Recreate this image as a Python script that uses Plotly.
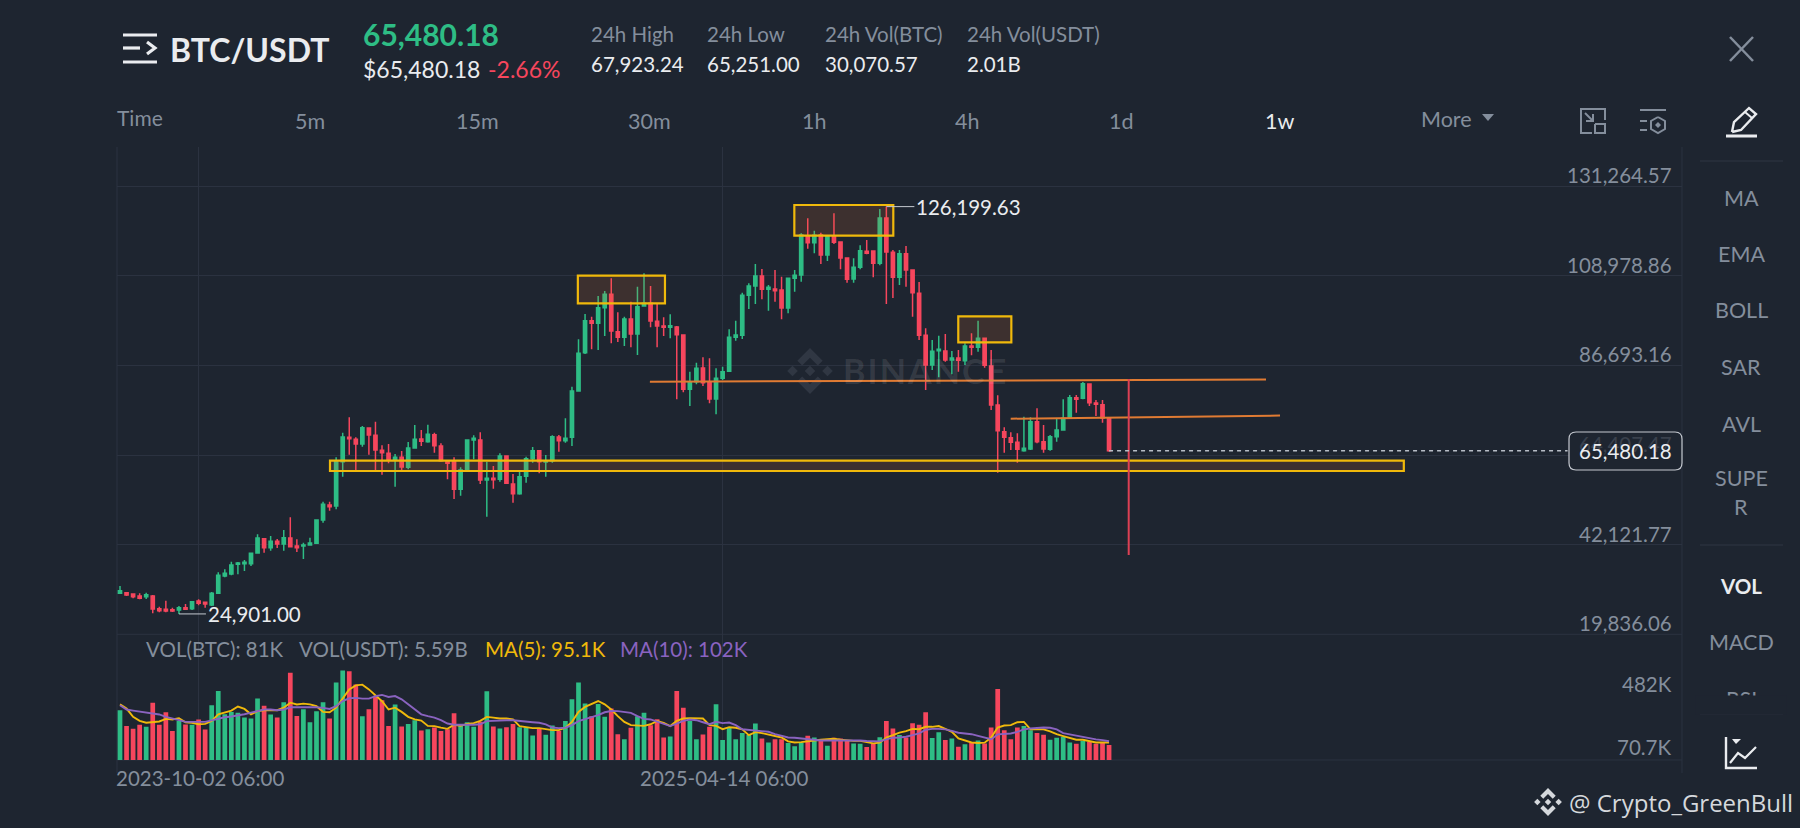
#!/usr/bin/env python3
import pandas as pd
import plotly.graph_objects as go

W, H = 1800, 828
BG = "#1e2530"
GRID = "#2b3240"
GRAY = "#848e9c"
WHITE = "#eaecef"
UP = "#2ebd85"
DOWN = "#f6465d"
GOLD = "#f0b90b"
ORANGE = "#e07b33"
PURPLE = "#8a63c0"
FONT = "Lato"

# weekly candles
opens = [30025, 30191, 29859, 29362, 29196, 29362, 26212, 26046, 25963, 25881,
         26460, 26212, 28118, 27787, 27124, 30025, 34336, 34833, 37237, 37403,
         37403, 40056, 43621, 41382, 42957, 42294, 43786, 41797, 41797, 42045,
         42460, 48263, 51994, 51745, 62770, 68822, 68325, 67164, 71143, 69320,
         65589, 64843, 63185, 63848, 61361, 66169, 68408, 67745, 69485, 66667,
         62936, 62770, 55890, 60864, 68159, 68159, 58211, 58625, 58377, 64180,
         57216, 54812, 59123, 63517, 65506, 62688, 63019, 68905, 67993, 68821,
         80344, 89878, 97836, 97173, 101069, 104385, 95100, 93691, 98251, 94520,
         101484, 102147, 97670, 96510, 96178, 96261, 94272, 80759, 82666, 86064,
         82417, 78355, 83494, 85235, 93691, 94189, 104137, 106458, 108945, 105629,
         105712, 105463, 100986, 108365, 109193, 118976, 117235, 119141, 114168, 118976,
         117401, 113421, 108199, 111100, 115079, 115162, 112095, 123369, 114831, 108613,
         114499, 110437, 104634, 94189, 86811, 90375, 90292, 88054, 88551, 87888,
         91536, 91204, 93443, 86562, 76863, 70230, 68738, 67578, 65505, 65920,
         72717, 67744, 65837, 68987, 70645, 73795, 78686, 78520, 82085, 77360,
         76945, 73629]
highs = [31849, 30357, 30025, 30025, 30191, 29610, 26709, 28201, 26460, 26875,
         27372, 28035, 28533, 27952, 30357, 35248, 35994, 37900, 37817, 38315,
         40139, 44698, 43786, 44284, 43538, 45776, 48926, 43455, 42626, 43869,
         48429, 52822, 52822, 63848, 69983, 73796, 68822, 71641, 71226, 72718,
         66833, 67164, 64677, 65423, 67662, 71890, 70646, 71972, 69983, 67330,
         63185, 63848, 61361, 68325, 69320, 70066, 62770, 61693, 64843, 64346,
         59703, 60201, 64014, 66418, 65506, 64428, 69320, 69402, 73548, 81422,
         93194, 99494, 98831, 103971, 105214, 108365, 99909, 98831, 102562, 106292,
         109608, 106458, 102147, 98665, 99411, 96510, 94354, 85153, 87391, 88718,
         88469, 85982, 86396, 95681, 97836, 104800, 107121, 111929, 110686, 106707,
         110437, 108779, 108530, 110437, 119556, 123287, 120219, 119722, 119141, 124530,
         117484, 113504, 113339, 116572, 117898, 115245, 125608, 126199.63, 115411, 115411,
         116406, 110603, 107453, 95929, 93028, 94106, 94520, 90292, 90541, 92199,
         94686, 97836, 93443, 90541, 79267, 71308, 70065, 69816, 73961, 73795,
         76034, 71889, 69402, 73547, 78272, 79350, 79350, 82583, 82251, 78106,
         78106, 73795]
lows = [29859, 29362, 28781, 28532, 28615, 25051, 25300, 25300, 25383, 24901,
        25881, 25881, 27040, 26460, 26875, 29859, 34004, 34502, 34750, 35579,
        36823, 39973, 40139, 40636, 41299, 40636, 41465, 40305, 38564, 41879,
        42294, 47600, 50584, 50916, 59040, 64511, 60698, 66501, 64511, 60698,
        59537, 62356, 56553, 60201, 60864, 66004, 66667, 67496, 65009, 62770,
        58377, 53486, 54315, 60698, 63351, 57216, 49092, 56056, 57797, 57216,
        52574, 54563, 57548, 62522, 59869, 59040, 62522, 65257, 67496, 66666,
        80179, 89546, 90707, 90541, 94023, 92199, 92531, 91536, 91204, 89297,
        101318, 96178, 91204, 94023, 93443, 78272, 80013, 76614, 82000, 81588,
        77277, 74541, 83080, 85153, 92862, 93277, 100738, 101981, 103142, 100323,
        102561, 98168, 99660, 105049, 107536, 115743, 114582, 111929, 112675, 116903,
        110603, 107287, 107287, 110603, 114333, 108613, 111598, 101981, 103473, 106706,
        106292, 98831, 93028, 80593, 85567, 83743, 87640, 84489, 85153, 86811,
        89215, 90127, 86147, 75619, 60034, 65008, 65671, 62521, 65257, 65671,
        67329, 65008, 65505, 67744, 70645, 73547, 74956, 78272, 76614, 74127,
        72469, 65257]
closes = [30688, 29610, 29196, 28781, 29694, 26129, 25714, 25631, 25631, 26460,
          26046, 27952, 27540, 27372, 30025, 34502, 35000, 37071, 37569, 37735,
          39973, 43786, 41382, 42957, 42294, 43869, 41631, 41382, 42045, 42543,
          48263, 52159, 51579, 62770, 68905, 68491, 67164, 71226, 69402, 65672,
          65009, 63185, 63848, 61444, 66169, 68325, 67827, 69568, 66749, 63019,
          62356, 55890, 60698, 68159, 68573, 58211, 58625, 58294, 64180, 57382,
          54812, 59040, 63517, 65506, 62770, 63019, 68988, 67993, 68573, 80344,
          89712, 97836, 97173, 101069, 104385, 95266, 93691, 98251, 94520, 101318,
          102147, 97753, 96510, 96178, 96593, 94354, 80759, 82417, 85982, 82417,
          78355, 83494, 85153, 93691, 94272, 104137, 106458, 108945, 105629, 106126,
          105297, 100986, 108365, 109111, 119141, 117235, 119058, 114168, 118976, 117318,
          113421, 108116, 111100, 115245, 114582, 112095, 123369, 114914, 108613, 114499,
          110437, 104800, 94189, 86811, 90209, 90707, 88054, 88551, 87971, 91536,
          91204, 93443, 86728, 76863, 70479, 68821, 67578, 65837, 66086, 72717,
          67744, 65920, 68987, 70645, 73547, 78686, 78272, 82168, 77443, 77028,
          73629, 65480.18]

# volume panel, in thousands of BTC
volumes = [270, 184, 169, 191, 180, 310, 191, 259, 158, 212,
           193, 191, 220, 166, 297, 374, 248, 261, 257, 230,
           225, 333, 295, 247, 230, 313, 473, 239, 275, 205,
           265, 313, 225, 421, 486, 481, 409, 238, 275, 349,
           324, 185, 301, 182, 196, 216, 160, 167, 176, 158,
           167, 254, 189, 205, 180, 207, 373, 182, 171, 178,
           196, 178, 178, 133, 169, 137, 187, 157, 211, 329,
           421, 306, 238, 304, 234, 279, 140, 112, 175, 238,
           256, 189, 221, 122, 128, 374, 284, 212, 112, 139,
           180, 302, 108, 175, 113, 146, 135, 198, 117, 95,
           112, 112, 92, 74, 94, 131, 122, 104, 77, 121,
           117, 103, 90, 88, 70, 90, 124, 212, 171, 135,
           122, 200, 191, 259, 119, 151, 108, 117, 72, 86,
           94, 106, 90, 176, 385, 162, 113, 176, 184, 162,
           146, 137, 110, 121, 126, 95, 88, 103, 99, 88,
           92, 81]
ma5 = [302, 279, 234, 212, 202, 207, 209, 223, 220, 227,
       205, 202, 194, 196, 212, 248, 259, 268, 290, 277,
       248, 265, 270, 270, 270, 284, 311, 301, 306, 302,
       292, 261, 259, 284, 333, 383, 405, 409, 383, 351,
       319, 274, 284, 261, 234, 220, 214, 185, 184, 176,
       169, 191, 185, 196, 200, 212, 234, 230, 225, 225,
       220, 184, 178, 173, 173, 166, 162, 162, 175, 207,
       261, 288, 306, 320, 302, 274, 238, 207, 189, 187,
       185, 194, 212, 202, 184, 212, 225, 227, 225, 225,
       189, 185, 167, 178, 175, 166, 135, 151, 146, 139,
       133, 122, 101, 95, 97, 103, 106, 110, 112, 115,
       110, 106, 104, 104, 99, 90, 94, 122, 135, 149,
       157, 169, 167, 180, 180, 184, 169, 153, 117, 104,
       95, 92, 94, 122, 176, 187, 189, 205, 207, 166,
       164, 166, 155, 140, 130, 121, 110, 110, 104, 95,
       95, 95.1]
ma10 = [297, 274, 268, 263, 259, 256, 247, 234, 223, 216,
        207, 205, 207, 207, 216, 227, 232, 236, 241, 248,
        257, 265, 274, 274, 270, 274, 286, 286, 286, 290,
        286, 283, 277, 292, 320, 335, 337, 333, 333, 346,
        353, 342, 347, 329, 302, 277, 248, 238, 230, 216,
        198, 191, 193, 191, 191, 194, 211, 214, 214, 216,
        216, 211, 209, 205, 202, 193, 176, 173, 175, 189,
        211, 221, 234, 243, 259, 266, 265, 261, 256, 238,
        223, 220, 207, 193, 184, 198, 212, 220, 216, 205,
        194, 207, 200, 203, 189, 167, 164, 162, 158, 153,
        140, 130, 122, 121, 117, 112, 106, 106, 106, 106,
        106, 106, 108, 106, 103, 103, 101, 112, 121, 122,
        126, 135, 144, 164, 169, 169, 166, 158, 148, 144,
        140, 131, 122, 113, 139, 142, 144, 153, 166, 171,
        175, 176, 175, 166, 146, 139, 135, 126, 117, 112,
        108, 102]

first_bar = pd.Timestamp("2023-07-10 06:00")
dates = pd.date_range(first_bar, periods=len(closes), freq="7D")

price_ticks = [131264.57, 108978.86, 86693.16, 42121.77, 19836.06]
price_tick_text = ["131,264.57", "108,978.86", "86,693.16", "42,121.77", "19,836.06"]
hidden_tick = 64407.47
hidden_tick_text = "64,407.47"
date_ticks = ["2023-10-02 06:00", "2025-04-14 06:00"]
last_price = 65480.18
price_max = 141028
vol_max = 682

# drawings on the chart: week offsets from the first bar and prices
gold_boxes = [(32.06, 196.0, 60449, 63010), (69.9, 83.2, 102156, 109018),
              (102.95, 118.06, 118968, 126602), (127.98, 136.08, 92456, 98923)]
orange_lines = [(80.9, 174.96, 82658, 83178), (135.98, 177.1, 73455, 74226)]
red_line = (154, 83327, 39558)


def bar_date(i):
    return first_bar + pd.Timedelta(weeks=i)


def xp(x):
    return x / W


def yp(y):
    return 1 - y / H


def poly(points, close=True):
    path = "M" + " L".join(f"{xp(x):.5f},{yp(y):.5f}" for x, y in points)
    return path + (" Z" if close else "")


def line_shape(points, color=GRAY, width=2.5, layer="above"):
    return dict(type="path", xref="paper", yref="paper", path=poly(points, close=False),
                line=dict(color=color, width=width), layer=layer)


def fill_shape(points, color, layer="above"):
    return dict(type="path", xref="paper", yref="paper", path=poly(points),
                fillcolor=color, line=dict(width=0), layer=layer)


def logo(cx, cy, r, color, layer="above"):
    d = r * 0.23
    out = []
    for dx, dy in [(0, 0), (-0.76 * r, 0), (0.76 * r, 0)]:
        out.append(fill_shape([(cx + dx, cy + dy - d), (cx + dx + d, cy + dy),
                               (cx + dx, cy + dy + d), (cx + dx - d, cy + dy)], color, layer))
    for s in [1, -1]:
        out.append(fill_shape([(cx, cy - s * r), (cx + 0.55 * r, cy - s * 0.45 * r),
                               (cx + 0.34 * r, cy - s * 0.24 * r), (cx, cy - s * 0.58 * r),
                               (cx - 0.34 * r, cy - s * 0.24 * r), (cx - 0.55 * r, cy - s * 0.45 * r)],
                              color, layer))
    return out


def label(x, y, text, color=GRAY, size=20, anchor="left", bold=False, family=FONT):
    return dict(x=xp(x), y=yp(y), xref="paper", yref="paper", text=f"<b>{text}</b>" if bold else text,
                showarrow=False, xanchor=anchor, yanchor="middle",
                font=dict(family=family, size=size, color=color), borderpad=0)


fig = go.Figure()
fig.add_trace(go.Candlestick(
    x=dates, open=opens, high=highs, low=lows, close=closes,
    increasing=dict(line=dict(color=UP, width=1.5), fillcolor=UP),
    decreasing=dict(line=dict(color=DOWN, width=1.5), fillcolor=DOWN),
    whiskerwidth=0, yaxis="y", hoverinfo="skip", showlegend=False))
bar_colors = [UP if c >= o else DOWN for o, c in zip(opens, closes)]
fig.add_trace(go.Bar(x=dates, y=volumes, marker=dict(color=bar_colors, line_width=0),
                     yaxis="y2", hoverinfo="skip", showlegend=False))
fig.add_trace(go.Scatter(x=dates, y=ma5, mode="lines", line=dict(color=GOLD, width=1.9),
                         yaxis="y2", hoverinfo="skip", showlegend=False))
fig.add_trace(go.Scatter(x=dates, y=ma10, mode="lines", line=dict(color=PURPLE, width=1.9),
                         yaxis="y2", hoverinfo="skip", showlegend=False))

shapes = []
# frame of the chart
for x in [117, 1682]:
    shapes.append(line_shape([(x, 147), (x, 773)], GRID, 1, "below"))
shapes.append(line_shape([(117, 634.3), (1682, 634.3)], GRID, 1, "below"))
shapes.append(line_shape([(117, 760), (1682, 760)], GRID, 1, "below"))
for y in [161, 545, 714]:
    shapes.append(line_shape([(1700, y), (1783, y)], "#2f3643", 1.2))

# BINANCE watermark mark goes under the candles
shapes += logo(810, 371, 23, "#303743", "below")

for x0, x1, y0, y1 in gold_boxes:
    shapes.append(dict(type="rect", x0=bar_date(x0), x1=bar_date(x1), y0=y0, y1=y1, xref="x", yref="y",
                       line=dict(color=GOLD, width=2.2), fillcolor="rgba(240,117,48,0.15)", layer="above"))
for x0, x1, y0, y1 in orange_lines:
    shapes.append(dict(type="line", x0=bar_date(x0), x1=bar_date(x1), y0=y0, y1=y1, xref="x", yref="y",
                       line=dict(color=ORANGE, width=2), layer="above"))
shapes.append(dict(type="line", x0=bar_date(red_line[0]), x1=bar_date(red_line[0]), y0=red_line[1], y1=red_line[2],
                   xref="x", yref="y", line=dict(color="#dd4054", width=2), layer="above"))
shapes.append(dict(type="line", x0=dates[-1], x1=bar_date(221), y0=last_price, y1=last_price, xref="x", yref="y",
                   line=dict(color="#b7bdc6", width=1.3, dash="4px,4px"), layer="above"))

# price pill
r = 7
pill = (f"M{xp(1569 + r):.5f},{yp(432):.5f} L{xp(1682 - r):.5f},{yp(432):.5f} Q{xp(1682):.5f},{yp(432):.5f} {xp(1682):.5f},{yp(432 + r):.5f} "
        f"L{xp(1682):.5f},{yp(470 - r):.5f} Q{xp(1682):.5f},{yp(470):.5f} {xp(1682 - r):.5f},{yp(470):.5f} "
        f"L{xp(1569 + r):.5f},{yp(470):.5f} Q{xp(1569):.5f},{yp(470):.5f} {xp(1569):.5f},{yp(470 - r):.5f} "
        f"L{xp(1569):.5f},{yp(432 + r):.5f} Q{xp(1569):.5f},{yp(432):.5f} {xp(1569 + r):.5f},{yp(432):.5f} Z")
shapes.append(dict(type="path", xref="paper", yref="paper", path=pill, fillcolor=BG,
                   line=dict(color="#c5c9d0", width=1.2), layer="above"))

# header and toolbar icons
for pts in [[(123, 35), (157, 35)], [(123, 48), (140, 48)], [(147, 42), (155, 48), (147, 54)], [(123, 62), (157, 62)]]:
    shapes.append(line_shape(pts, WHITE, 3.2))
shapes.append(line_shape([(1730, 37), (1753, 61)], GRAY, 2.5))
shapes.append(line_shape([(1753, 37), (1730, 61)], GRAY, 2.5))
shapes.append(line_shape([(1592, 133), (1581, 133), (1581, 109), (1605, 109), (1605, 120)], GRAY, 2))
shapes.append(line_shape([(1595, 124), (1605, 124), (1605, 133), (1595, 133), (1595, 124)], GRAY, 2))
shapes.append(line_shape([(1585, 113), (1593, 121)], GRAY, 2))
shapes.append(line_shape([(1593, 114), (1593, 121), (1586, 121)], GRAY, 2))
shapes.append(line_shape([(1640, 110), (1666, 110)], GRAY, 2))
shapes.append(line_shape([(1640, 121), (1647, 121)], GRAY, 2))
shapes.append(line_shape([(1640, 130), (1647, 130)], GRAY, 2))
shapes.append(line_shape([(1658, 117), (1665, 121), (1665, 129), (1658, 133), (1651, 129), (1651, 121), (1658, 117)], GRAY, 2))
shapes.append(fill_shape([(1658, 122), (1661, 125), (1658, 128), (1655, 125)], GRAY))
shapes.append(line_shape([(1732, 132), (1734, 122), (1749, 108), (1756, 114), (1741, 130), (1732, 132)], WHITE, 2.4))
shapes.append(line_shape([(1745, 112), (1752, 118)], WHITE, 2))
shapes.append(line_shape([(1726, 136), (1757, 136)], WHITE, 3))
shapes.append(line_shape([(1726, 737), (1726, 768), (1757, 768)], WHITE, 2.4))
shapes.append(line_shape([(1730, 763), (1738, 753), (1745, 758), (1756, 747)], WHITE, 2.2))
shapes.append(fill_shape([(1732, 739), (1741, 739), (1736, 744)], WHITE))
shapes.append(fill_shape([(1482, 114), (1494, 114), (1488, 121)], GRAY))
shapes += logo(1548, 802, 14, "#d5d8dc")

ann = []
# price axis labels sit just above their grid lines
for value, text in zip(price_ticks, price_tick_text):
    ann.append(dict(x=xp(1673), xref="paper", y=value, yref="y", text=text, showarrow=False, xanchor="right",
                    yanchor="bottom", yshift=-2, font=dict(family=FONT, size=20.5, color=GRAY), borderpad=0))
ann.append(dict(x=xp(1673), xref="paper", y=hidden_tick, yref="y", text=hidden_tick_text, showarrow=False,
                xanchor="right", yanchor="bottom", yshift=-2, font=dict(family=FONT, size=20.5, color="#3a414d"), borderpad=0))
ann.append(label(1625.5, 451, "65,480.18", WHITE, 20.5, "center"))
ann.append(label(1673, 684, "482K", GRAY, 20.5, "right"))
ann.append(label(1673, 747, "70.7K", GRAY, 20.5, "right"))

# date labels under the volume panel
for text in date_ticks:
    ann.append(dict(x=pd.Timestamp(text), xref="x", y=yp(778), yref="paper", text=text, showarrow=False,
                    xanchor="center", yanchor="middle", xshift=1, font=dict(family=FONT, size=20.5, color=GRAY), borderpad=0))

# high and low markers
ann.append(dict(x=dates[lows.index(min(lows))], y=min(lows), xref="x", yref="y", text="24,901.00", showarrow=True,
                arrowhead=0, arrowwidth=1, arrowcolor="#c5c9d0", ax=27, ay=0, xanchor="left", standoff=0,
                font=dict(family=FONT, size=20.5, color=WHITE)))
ann.append(dict(x=dates[highs.index(max(highs))], y=max(highs), xref="x", yref="y", text="126,199.63", showarrow=True,
                arrowhead=0, arrowwidth=1, arrowcolor="#c5c9d0", ax=28, ay=0, xanchor="left", standoff=0,
                font=dict(family=FONT, size=20.5, color=WHITE)))

ann.append(label(842, 370, "B\u200aI\u200aN\u200aA\u200aN\u200aC\u200aE", "rgba(255,255,255,0.1)", 34, "left", bold=True))

# volume legend
ann.append(label(145, 649, "VOL(BTC): 81K", GRAY, 20.5))
ann.append(label(298, 649, "VOL(USDT): 5.59B", GRAY, 20.5))
ann.append(label(484, 649, "MA(5): 95.1K", GOLD, 20.5))
ann.append(label(619, 649, "MA(10): 102K", PURPLE, 20.5))

# header
ann.append(label(169, 49, "BTC/USDT", WHITE, 32, bold=True))
ann.append(label(362, 34, "65,480.18", UP, 30, bold=True))
ann.append(label(362, 69, "$65,480.18", WHITE, 23))
ann.append(label(487, 69, "-2.66%", DOWN, 23))
stat_x = [590, 706, 824, 966]
stat_names = ["24h High", "24h Low", "24h Vol(BTC)", "24h Vol(USDT)"]
stat_values = ["67,923.24", "65,251.00", "30,070.57", "2.01B"]
for x, name, value in zip(stat_x, stat_names, stat_values):
    ann.append(label(x, 34, name, GRAY, 20.5))
    ann.append(label(x, 64, value, WHITE, 20.5))

# interval row
ann.append(label(116, 118, "Time", GRAY, 21))
interval_x = [310, 477, 649, 814, 967, 1121]
interval_names = ["5m", "15m", "30m", "1h", "4h", "1d"]
for x, name in zip(interval_x, interval_names):
    ann.append(label(x, 121, name, GRAY, 21.5, "center"))
ann.append(label(1279, 121, "1w", WHITE, 21.5, "center"))
ann.append(label(1446, 119, "More", GRAY, 21.5, "center"))

# indicator column
side_y = [198, 254, 310, 367, 424, 478, 507, 642]
side_names = ["MA", "EMA", "BOLL", "SAR", "AVL", "SUPE", "R", "MACD"]
for y, name in zip(side_y, side_names):
    ann.append(label(1741, y, name, GRAY, 21.5, "center"))
ann.append(label(1741, 586, "VOL", WHITE, 20.5, "center", bold=True))
# RSI is cut off by the scroll area in the screenshot
ann.append(label(1741, 699, "RSI", GRAY, 21.5, "center"))
ann.append(dict(x=xp(1741), y=yp(694.5), xref="paper", yref="paper", text=" ", showarrow=False, xanchor="center",
                yanchor="top", width=90, height=18, bgcolor=BG, borderpad=0))

ann.append(label(1568, 802, "@ Crypto_GreenBull", "#d5d8dc", 24, family="Open Sans"))

fig.update_layout(
    width=W, height=H, margin=dict(l=0, r=0, t=0, b=0),
    paper_bgcolor=BG, plot_bgcolor=BG, showlegend=False, bargap=0.28,
    xaxis=dict(
        domain=[xp(117), xp(1682)], anchor="y2",
        range=[bar_date(-0.458), bar_date(238.47)], type="date",
        tickmode="array", tickvals=[pd.Timestamp(d) for d in date_ticks], showticklabels=False,
        ticks="", showline=False, showgrid=True, gridcolor=GRID, gridwidth=1, zeroline=False,
        rangeslider=dict(visible=False)),
    yaxis=dict(
        domain=[yp(634.3), yp(147)], range=[price_ticks[-1], price_max], anchor="x",
        tickmode="array", tickvals=price_ticks + [hidden_tick], showticklabels=False,
        showgrid=True, gridcolor=GRID, gridwidth=1, zeroline=False, showline=False),
    yaxis2=dict(
        domain=[yp(760), yp(634.3)], range=[0, vol_max], anchor="x",
        showticklabels=False, showgrid=False, zeroline=False, showline=False),
    shapes=shapes, annotations=ann,
)

fig.write_html("out.html", config=dict(displayModeBar=False),
               post_script=f"document.body.style.margin='0';document.body.style.background='{BG}';")
